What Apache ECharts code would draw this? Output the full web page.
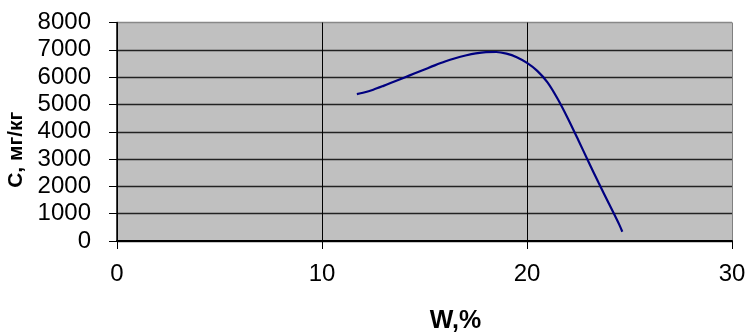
<!DOCTYPE html>
<html>
<head>
<meta charset="utf-8">
<script src="https://cdn.jsdelivr.net/npm/echarts@6/dist/echarts.min.js"></script>
<style>html,body{margin:0;padding:0;background:#fff}#c{width:750px;height:333px}</style>
</head>
<body>
<div id="c"></div>
<script>
var wValues = [11.7, 12.0, 12.5, 13.0, 13.5, 14.0, 14.5, 15.0, 15.5, 16.0, 16.5, 17.0, 17.5, 18.0, 18.5, 19.0, 19.5, 20.0, 20.5, 21.0, 21.5, 22.0, 22.5, 23.0, 23.5, 24.0, 24.5, 24.65];
var cValues = [5380, 5430, 5540, 5680, 5830, 5980, 6130, 6280, 6430, 6570, 6690, 6790, 6870, 6915, 6920, 6860, 6730, 6520, 6230, 5810, 5200, 4480, 3700, 2900, 2120, 1360, 600, 340];
var xTitle = 'W,%';
var yTitle = 'С, мг/кг';

var data = wValues.map(function (w, i) { return [w, cValues[i]]; });
var font = '"Liberation Sans", Arial, sans-serif';
var chart = echarts.init(document.getElementById('c'));
chart.setOption({
  animation: false,
  grid: { left: 117, right: 18, top: 22.5, bottom: 92, show: true, backgroundColor: '#c0c0c0', borderWidth: 0, containLabel: false, outerBoundsMode: 'none' },
  xAxis: {
    type: 'value', min: 0, max: 30, interval: 10,
    name: xTitle, nameLocation: 'middle', nameGap: 68,
    nameTextStyle: { fontFamily: font, fontSize: 25, fontWeight: 'bold', color: '#000', padding: [0, 0, 0, 62] },
    axisLine: { show: true, onZero: false, lineStyle: { color: '#000', width: 2 } },
    axisTick: { show: true, length: 8, lineStyle: { color: '#000' } },
    axisLabel: { fontFamily: font, fontSize: 24, color: '#000', margin: 21 },
    splitLine: { show: true, lineStyle: { color: ['#000', '#000', '#000', '#808080'], width: 1 } }
  },
  yAxis: {
    type: 'value', min: 0, max: 8000, interval: 1000,
    name: yTitle, nameLocation: 'middle', nameGap: 86, nameRotate: 90,
    nameTextStyle: { fontFamily: font, fontSize: 21, fontWeight: 'bold', color: '#000', padding: [0, 36, 0, 0] },
    axisLine: { show: true, lineStyle: { color: '#000', width: 1.5 } },
    axisTick: { show: true, length: 8, lineStyle: { color: '#000' } },
    axisLabel: { fontFamily: font, fontSize: 24, color: '#000', margin: 26, formatter: function (v) { return String(v); } },
    splitLine: { show: true, lineStyle: { color: ['#222', '#222', '#222', '#222', '#222', '#222', '#222', '#222', '#888'], width: 1.3 } }
  },
  series: [{
    type: 'line', data: data, smooth: 0.3, showSymbol: false,
    lineStyle: { color: '#000080', width: 2.2 }
  }]
});
</script>
</body>
</html>
